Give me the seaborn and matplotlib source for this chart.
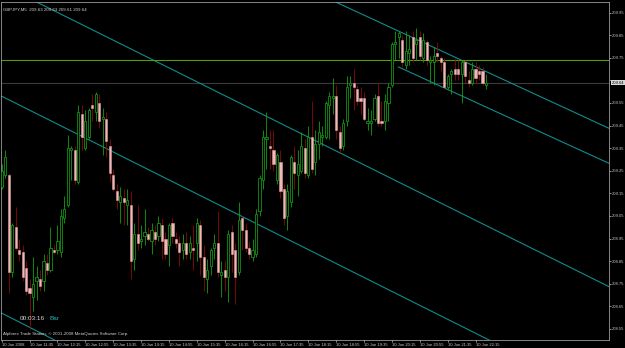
import numpy as np
import pandas as pd
import matplotlib
matplotlib.use("Agg")
import matplotlib.pyplot as plt
import matplotlib.transforms as mtransforms
import seaborn as sns

# GBPJPY M5, 10 Jun 2008 10:55 .. 22:30
opens = [209.18, 209.23, 209.23, 208.80, 209.00, 208.90, 208.89, 208.82, 208.73, 208.69,
         208.76, 208.77, 208.76, 208.84, 208.81, 208.90, 208.90, 208.89, 209.04, 209.10,
         209.34, 209.34, 209.20, 209.50, 209.35, 209.40, 209.54, 209.51, 209.55, 209.48,
         209.48, 209.36, 209.23, 209.16, 209.11, 209.13, 209.10, 209.10, 208.86, 208.97,
         208.94, 208.96, 208.97, 208.94, 208.98, 208.96, 209.01, 208.95, 208.92, 209.02,
         208.95, 208.93, 208.90, 208.93, 208.89, 208.91, 208.93, 209.01, 208.87, 208.77,
         208.83, 208.91, 208.93, 208.79, 208.81, 208.78, 208.98, 208.90, 208.80, 209.04,
         208.99, 208.91, 208.87, 208.88, 209.07, 209.21, 209.39, 209.36, 209.34, 209.21,
         209.29, 209.17, 209.05, 209.11, 209.29, 209.23, 209.25, 209.35, 209.23, 209.40,
         209.29, 209.37, 209.40, 209.40, 209.54, 209.57, 209.58, 209.42, 209.36, 209.47,
         209.63, 209.64, 209.61, 209.57, 209.57, 209.46, 209.46, 209.48, 209.58, 209.47,
         209.47, 209.55, 209.63, 209.81, 209.84, 209.83, 209.72, 209.77, 209.84, 209.81,
         209.84, 209.75, 209.82, 209.73, 209.73, 209.77, 209.75, 209.73, 209.62, 209.68,
         209.70, 209.70, 209.68, 209.73, 209.65, 209.64, 209.70, 209.69, 209.69, 209.63]
highs = [209.28, 209.34, 209.24, 209.02, 209.09, 208.95, 208.92, 208.85, 208.77, 208.87,
         208.83, 208.81, 208.88, 208.88, 209.00, 208.92, 209.01, 209.08, 209.14, 209.41,
         209.36, 209.36, 209.54, 209.54, 209.52, 209.53, 209.59, 209.60, 209.59, 209.53,
         209.51, 209.39, 209.26, 209.19, 209.18, 209.17, 209.17, 209.16, 209.02, 209.10,
         209.01, 209.08, 209.00, 209.02, 209.01, 209.05, 209.04, 208.98, 209.02, 209.04,
         208.98, 208.96, 208.97, 208.98, 208.96, 209.01, 209.04, 209.03, 208.92, 208.86,
         208.91, 208.97, 209.07, 208.85, 208.85, 208.99, 209.01, 208.93, 209.11, 209.05,
         209.02, 208.94, 208.95, 209.08, 209.23, 209.43, 209.51, 209.43, 209.43, 209.33,
         209.34, 209.19, 209.19, 209.32, 209.36, 209.34, 209.42, 209.39, 209.45, 209.56,
         209.43, 209.47, 209.45, 209.56, 209.60, 209.66, 209.63, 209.45, 209.48, 209.67,
         209.67, 209.70, 209.63, 209.62, 209.60, 209.53, 209.52, 209.59, 209.64, 209.56,
         209.59, 209.64, 209.82, 209.87, 209.87, 209.85, 209.87, 209.85, 209.87, 209.88,
         209.87, 209.86, 209.83, 209.76, 209.80, 209.82, 209.76, 209.75, 209.68, 209.70,
         209.75, 209.74, 209.74, 209.74, 209.69, 209.73, 209.73, 209.72, 209.71, 209.68]
lows = [209.17, 209.22, 208.71, 208.78, 208.90, 208.85, 208.76, 208.70, 208.55, 208.63,
        208.68, 208.72, 208.72, 208.79, 208.80, 208.88, 208.88, 208.87, 209.02, 209.09,
        209.21, 209.19, 209.19, 209.34, 209.34, 209.39, 209.47, 209.47, 209.44, 209.32,
        209.31, 209.20, 209.16, 209.08, 209.02, 209.01, 209.01, 208.77, 208.81, 208.90,
        208.91, 208.92, 208.94, 208.88, 208.92, 208.94, 208.86, 208.86, 208.83, 208.93,
        208.91, 208.83, 208.86, 208.86, 208.86, 208.81, 208.85, 208.79, 208.72, 208.71,
        208.79, 208.86, 208.78, 208.69, 208.72, 208.67, 208.80, 208.66, 208.79, 208.90,
        208.89, 208.86, 208.85, 208.87, 209.05, 209.17, 209.26, 209.26, 209.25, 209.19,
        209.13, 209.01, 208.99, 209.09, 209.17, 209.14, 209.24, 209.22, 209.22, 209.24,
        209.23, 209.30, 209.36, 209.39, 209.39, 209.50, 209.39, 209.33, 209.34, 209.45,
        209.57, 209.52, 209.54, 209.50, 209.47, 209.43, 209.41, 209.47, 209.45, 209.45,
        209.43, 209.47, 209.62, 209.74, 209.75, 209.71, 209.70, 209.72, 209.73, 209.74,
        209.74, 209.73, 209.72, 209.64, 209.63, 209.73, 209.69, 209.61, 209.61, 209.59,
        209.65, 209.65, 209.55, 209.64, 209.62, 209.63, 209.64, 209.65, 209.63, 209.61]
closes = [209.25, 209.31, 208.80, 209.01, 208.91, 208.88, 208.78, 208.72, 208.71, 208.75,
          208.78, 208.74, 208.85, 208.81, 208.91, 208.89, 208.94, 209.05, 209.08, 209.35,
          209.35, 209.21, 209.51, 209.40, 209.47, 209.52, 209.53, 209.59, 209.47, 209.49,
          209.38, 209.24, 209.17, 209.12, 209.14, 209.11, 209.12, 208.85, 208.97, 208.93,
          208.95, 208.98, 208.95, 208.99, 208.95, 209.02, 208.94, 208.88, 209.01, 208.96,
          208.93, 208.89, 208.93, 208.88, 208.93, 208.90, 209.02, 208.87, 208.78, 208.81,
          208.90, 208.93, 208.80, 208.80, 208.78, 208.97, 208.88, 208.78, 209.03, 208.99,
          208.91, 208.88, 208.90, 209.06, 209.22, 209.40, 209.40, 209.35, 209.28, 209.32,
          209.16, 209.04, 209.16, 209.31, 209.24, 209.28, 209.36, 209.24, 209.40, 209.26,
          209.37, 209.42, 209.41, 209.55, 209.58, 209.58, 209.43, 209.35, 209.46, 209.62,
          209.64, 209.62, 209.56, 209.56, 209.48, 209.47, 209.47, 209.57, 209.46, 209.46,
          209.56, 209.62, 209.81, 209.82, 209.86, 209.73, 209.78, 209.79, 209.75, 209.83,
          209.76, 209.83, 209.74, 209.74, 209.76, 209.76, 209.73, 209.62, 209.67, 209.69,
          209.68, 209.68, 209.73, 209.67, 209.64, 209.70, 209.66, 209.68, 209.64, 209.64]

time_labels = ["10 Jun 2008", "10 Jun 11:35", "10 Jun 12:15", "10 Jun 12:55", "10 Jun 13:35",
               "10 Jun 14:15", "10 Jun 14:55", "10 Jun 15:35", "10 Jun 16:15", "10 Jun 16:55",
               "10 Jun 17:35", "10 Jun 18:15", "10 Jun 18:55", "10 Jun 19:35", "10 Jun 20:15",
               "10 Jun 20:55", "10 Jun 21:35", "10 Jun 22:15"]
price_ticks = [208.55, 208.65, 208.75, 208.85, 208.95, 209.05, 209.15, 209.25,
               209.35, 209.45, 209.55, 209.65, 209.75, 209.85, 209.95]

level_price = 209.74
bid_price = 209.64

# trendlines as two anchor points (bar index, price)
trend_bars = [[9.6, 170], [0, 140], [0, 14], [95.4, 174], [113.8, 174]]
trend_prices = [[210.00, 208.77], [209.58, 208.50], [208.62, 208.51],
                [210.00, 209.44], [209.71, 209.285]]

df = pd.DataFrame({"open": opens, "high": highs, "low": lows, "close": closes})
df["bar"] = np.arange(len(df))
df["up"] = df["close"] >= df["open"]

sns.set_style("dark", {"axes.facecolor": "black", "figure.facecolor": "black"})
plt.rcParams["font.family"] = ["Liberation Sans", "DejaVu Sans"]

fig = plt.figure(figsize=(6.25, 3.48), dpi=100)
ax = fig.add_axes([1 / 625, 8 / 348, 608 / 625, 338 / 348])
ax.set_facecolor("black")

bull_col = "#12a012"
bear_wick = "#8b0a0a"
bear_fill = "#f0b8b8"

up = df[df["up"]]
dn = df[~df["up"]]
ax.vlines(up["bar"], up["low"], up["high"], color=bull_col, lw=0.6, zorder=3)
ax.vlines(dn["bar"], dn["low"], dn["high"], color=bear_wick, lw=0.6, zorder=3)

body_lo = np.minimum(df["open"], df["close"])
body_h = np.maximum((df["close"] - df["open"]).abs(), 0.002)
ax.bar(up["bar"], body_h[df["up"]], bottom=body_lo[df["up"]], width=0.62,
       facecolor="black", edgecolor=bull_col, linewidth=0.55, zorder=4)
ax.bar(dn["bar"], body_h[~df["up"]], bottom=body_lo[~df["up"]], width=0.62,
       facecolor=bear_fill, edgecolor="#d89c9c", linewidth=0.4, zorder=4)

# trendlines (rays to the right edge)
x_right = 175
for bx, py in zip(trend_bars, trend_prices):
    slope = (py[1] - py[0]) / (bx[1] - bx[0])
    xs = [bx[0], x_right]
    ys = [py[0], py[0] + slope * (x_right - bx[0])]
    sns.lineplot(x=xs, y=ys, ax=ax, color="#118c8c", lw=0.8, zorder=2)

ax.axhline(level_price, color="#4f9e0f", lw=0.8, zorder=2)
ax.axhline(bid_price, color="#3a3a3a", lw=0.8, zorder=1)

ax.set_xlim(-0.2, 174.3)
ax.set_ylim(208.501, 209.997)

ax.yaxis.tick_right()
ax.set_yticks(price_ticks)
# the 209.65 label sits under the bid box on the price scale
ax.set_yticklabels(["" if abs(p - 209.65) < 1e-6 else f"{p:.2f}" for p in price_ticks])
ax.set_xticks(np.arange(len(time_labels)) * 8)
ax.set_xticklabels(time_labels, ha="left")
ax.tick_params(axis="both", colors="#c8c8c8", labelsize=3.0, length=1.5, width=0.5, pad=0.6)
ax.tick_params(axis="y", right=True, left=False)
ax.tick_params(axis="x", bottom=True)
ax.set_xlabel("")
ax.set_ylabel("")
ax.grid(False)
for s in ax.spines.values():
    s.set_color("#9a9a9a")
    s.set_linewidth(0.6)

# current bid label box on the price scale
tr = mtransforms.blended_transform_factory(ax.transAxes, ax.transData)
ax.text(1.0045, bid_price, f"{bid_price:.2f}", transform=tr, fontsize=3.0, color="black",
        va="center", ha="left", zorder=10,
        bbox=dict(boxstyle="square,pad=0.15", facecolor="#d8d8d8", edgecolor="none"))

ax.text(0.004, 0.985, "GBPJPY,M5  209.63 209.63 209.61 209.64", transform=ax.transAxes,
        fontsize=3.2, color="#d0d0d0", va="top", ha="left")
ax.text(0.031, 0.065, "00:03:16", transform=ax.transAxes, fontsize=4.6,
        color="#d8d8d8", va="center", ha="left")
ax.text(0.079, 0.065, "Bar", transform=ax.transAxes, fontsize=4.6,
        color="#2ab4b4", va="center", ha="left")
ax.text(0.004, 0.018, "Alpforex Trade Station, © 2001-2008 MetaQuotes Software Corp.",
        transform=ax.transAxes, fontsize=3.2, color="#d0d0d0", va="center", ha="left")

fig.savefig("out.png", dpi=100, facecolor="black")
